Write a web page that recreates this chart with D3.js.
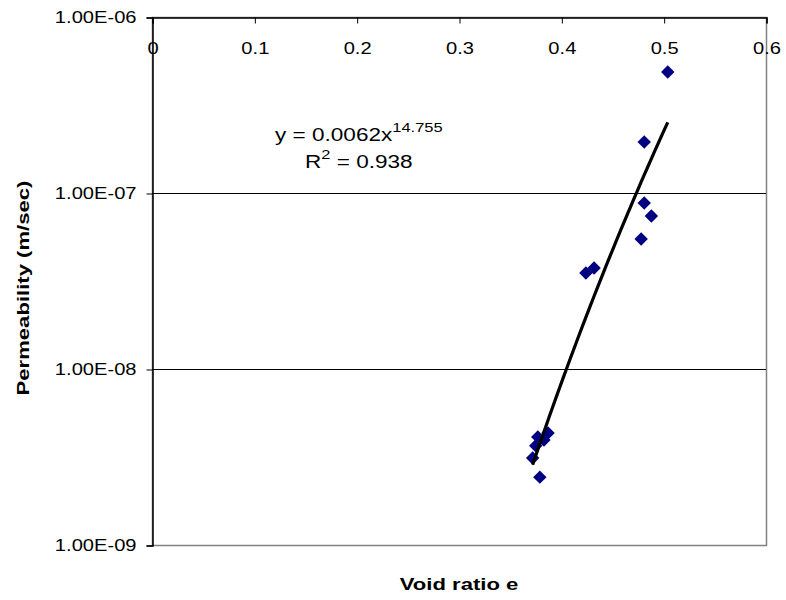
<!DOCTYPE html>
<html>
<head>
<meta charset="utf-8">
<script src="https://cdn.jsdelivr.net/npm/d3@7"></script>
<style>
  body { margin: 0; background: #fff; }
  svg { display: block; font-family: "Liberation Sans", Arial, sans-serif; }
</style>
</head>
<body>
<div id="chart"></div>
<script>
// void ratio e (x) and permeability m/sec (y)
const void_ratio = [0.504, 0.481, 0.481, 0.488, 0.478, 0.424, 0.432,
  0.377, 0.383, 0.387, 0.375, 0.372, 0.379];
const permeability = [4.87e-7, 1.95e-7, 8.77e-8, 7.4e-8, 5.48e-8, 3.51e-8, 3.75e-8,
  4.11e-9, 3.95e-9, 4.33e-9, 3.66e-9, 3.12e-9, 2.43e-9];

const x_ticks = [0, 0.1, 0.2, 0.3, 0.4, 0.5, 0.6];
const y_ticks = [1e-6, 1e-7, 1e-8, 1e-9];
const y_tick_labels = ["1.00E-06", "1.00E-07", "1.00E-08", "1.00E-09"];

// power trend y = a * x^b
const trend_a = 0.0062;
const trend_b = 14.755;
const trend_r2 = 0.938;

const width = 786, height = 600;
const margins = [17, 20, 55, 152]; //top, right, bottom, left
const [margin_top, margin_right, margin_bottom, margin_left] = margins;
const stretch = 1.22; // the original text is drawn a bit wide

const svg = d3.select("#chart").append("svg")
  .attr("width", width)
  .attr("height", height);

const x_axis = d3.scaleLinear().domain([0, 0.6])
  .range([margin_left, width - margin_right]);
const y_axis = d3.scaleLog().domain([1e-9, 1e-6])
  .range([height - margin_bottom, margin_top]);

// widen axis text around its own anchor
function widen(sel, k) {
  sel.each(function () {
    const t = d3.select(this);
    const x = +t.attr("x") || 0;
    t.attr("x", x / k).attr("transform", `scale(${k},1)`);
  });
}

// plot area border (grey)
svg.append("rect")
  .attr("x", x_axis(0) + 0.5).attr("y", y_axis(1e-6) + 0.5)
  .attr("width", x_axis(0.6) - x_axis(0))
  .attr("height", y_axis(1e-9) - y_axis(1e-6))
  .attr("fill", "none").attr("stroke", "#808080").attr("stroke-width", 1.5);

// gridlines
svg.append("g").selectAll("line")
  .data([1e-7, 1e-8]).join("line")
  .attr("x1", x_axis(0)).attr("x2", x_axis(0.6))
  .attr("y1", (d) => y_axis(d) + 0.5).attr("y2", (d) => y_axis(d) + 0.5)
  .attr("stroke", "#000").attr("stroke-width", 1);

// y axis on the left
const gy = svg.append("g")
  .attr("transform", `translate(${x_axis(0) + 0.5},0.5)`)
  .call(d3.axisLeft(y_axis).tickValues(y_ticks)
    .tickFormat((d, i) => y_tick_labels[i]).tickSize(6).tickPadding(10));
gy.select(".domain").attr("stroke", "#000").attr("stroke-width", 1.5);
gy.selectAll("text").attr("font-size", 16.5).attr("fill", "#000")
  .attr("font-family", "Liberation Sans, Arial, sans-serif")
  .call(widen, stretch);

// x axis across the top, ticks pointing down into the plot
const gx = svg.append("g")
  .attr("transform", `translate(0.5,${y_axis(1e-6) + 0.5})`)
  .call(d3.axisBottom(x_axis).tickValues(x_ticks)
    .tickFormat((d) => String(d)).tickSize(6).tickPadding(19));
gx.select(".domain").attr("stroke", "#000").attr("stroke-width", 1.5);
gx.selectAll("text").attr("font-size", 16.5).attr("fill", "#000")
  .attr("font-family", "Liberation Sans, Arial, sans-serif")
  .call(widen, stretch);

// data points as diamonds
svg.append("g").selectAll("path")
  .data(void_ratio.map((v, i) => [v, permeability[i]])).join("path")
  .attr("d", d3.symbol().type(d3.symbolSquare).size(90))
  .attr("transform", ([x, y]) => `translate(${x_axis(x)},${y_axis(y)}) rotate(45)`)
  .attr("fill", "#000080");

// power trendline between min and max void ratio
const x_min = d3.min(void_ratio), x_max = d3.max(void_ratio);
const trend_pts = d3.range(0, 41).map((i) => {
  const x = x_min + (x_max - x_min) * i / 40;
  return [x, trend_a * Math.pow(x, trend_b)];
});
svg.append("path")
  .datum(trend_pts)
  .attr("fill", "none")
  .attr("stroke", "#000")
  .attr("stroke-width", 3.2)
  .attr("d", d3.line().x((d) => x_axis(d[0])).y((d) => y_axis(d[1])));

// equation label
const eq = svg.append("text")
  .attr("transform", `translate(275,141) scale(${stretch},1)`)
  .attr("font-size", 18.5).attr("fill", "#000");
eq.append("tspan").text("y = " + trend_a + "x");
eq.append("tspan").attr("font-size", 13.5).attr("dy", -9).text(trend_b);

const r2 = svg.append("text")
  .attr("transform", `translate(305,168) scale(${stretch},1)`)
  .attr("font-size", 18.5).attr("fill", "#000");
r2.append("tspan").text("R");
r2.append("tspan").attr("font-size", 13.5).attr("dy", -9).text("2");
r2.append("tspan").attr("dy", 9).text(" = " + trend_r2);

// axis titles
svg.append("text")
  .attr("transform", `translate(${(x_axis(0) + x_axis(0.6)) / 2},590) scale(1.3,1)`)
  .attr("text-anchor", "middle")
  .attr("font-size", 17).attr("font-weight", "bold")
  .text("Void ratio e");

svg.append("text")
  .attr("transform", `translate(29,288) rotate(-90) scale(1.3,1)`)
  .attr("text-anchor", "middle")
  .attr("font-size", 17).attr("font-weight", "bold")
  .text("Permeability (m/sec)");
</script>
</body>
</html>
